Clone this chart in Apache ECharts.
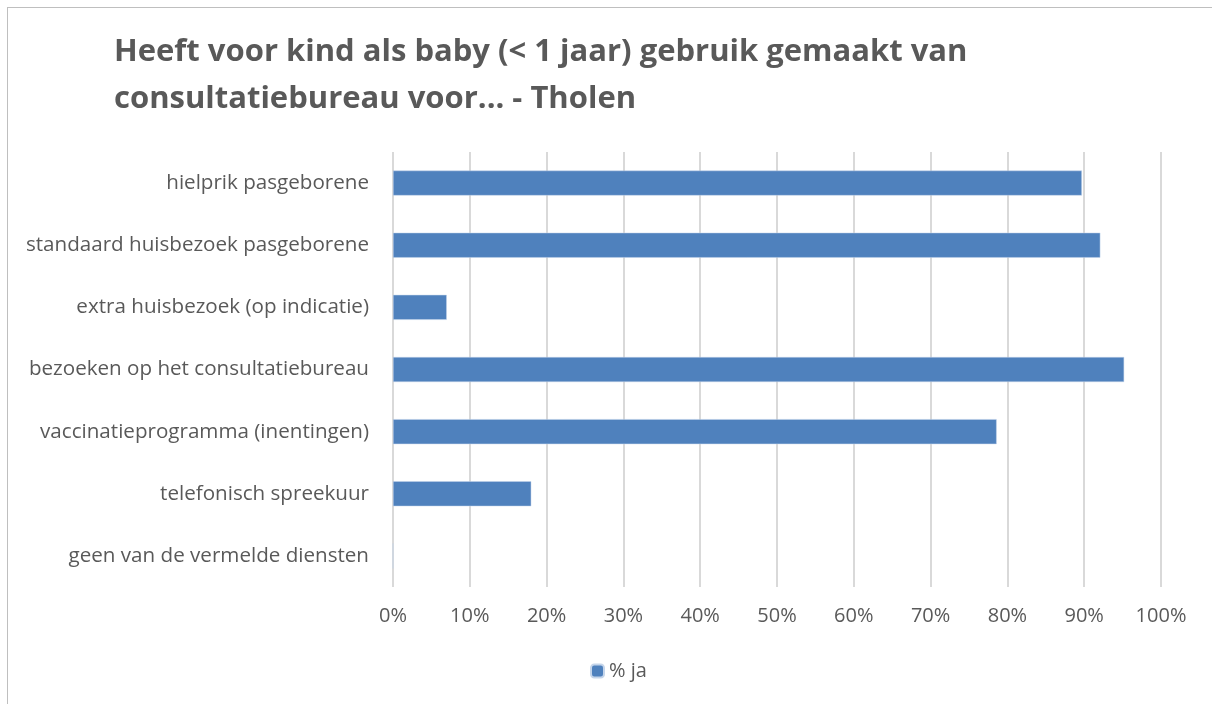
<!DOCTYPE html>
<html>
<head>
<meta charset="utf-8">
<script src="https://cdn.jsdelivr.net/npm/echarts@6/dist/echarts.min.js"></script>
<style>
  html, body { margin: 0; padding: 0; background: #fff; }
  #frame { position: absolute; left: 7px; top: 7px; width: 1210px; height: 710px; border: 1px solid #bfbfbf; box-sizing: border-box; }
  #chart { position: absolute; left: 0; top: 0; width: 1212px; height: 704px; }
</style>
</head>
<body>
<div id="frame"></div>
<div id="chart"></div>
<script>
const categories = [
  "hielprik pasgeborene",
  "standaard huisbezoek pasgeborene",
  "extra huisbezoek (op indicatie)",
  "bezoeken op het consultatiebureau",
  "vaccinatieprogramma (inentingen)",
  "telefonisch spreekuur",
  "geen van de vermelde diensten"
];
const jaValues = [89.7, 92.1, 7.0, 95.2, 78.6, 18.0, 0];
const seriesName = "% ja";

var myChart = echarts.init(document.getElementById("chart"));

var option = {
  animation: false,
  title: {
    text: "Heeft voor kind als baby (< 1 jaar) gebruik gemaakt van\nconsultatiebureau voor... - Tholen",
    left: 109,
    top: 24,
    textStyle: {
      color: "#595959",
      fontFamily: "Open Sans",
      fontWeight: "bold",
      fontSize: 31,
      lineHeight: 47
    }
  },
  legend: {
    data: [seriesName],
    bottom: 18,
    left: 585,
    itemWidth: 13,
    itemHeight: 13,
    itemGap: 4,
    textStyle: { color: "#595959", fontSize: 20, fontFamily: "Open Sans" }
  },
  grid: {
    left: 393,
    right: 51,
    top: 152,
    bottom: 117
  },
  xAxis: {
    type: "value",
    min: 0,
    max: 100,
    interval: 10,
    axisLabel: {
      formatter: "{value}%",
      color: "#595959",
      fontSize: 20,
      fontFamily: "Open Sans",
      margin: 19
    },
    axisLine: { show: false },
    axisTick: { show: false },
    splitLine: { lineStyle: { color: "#d9d9d9", width: 2 } }
  },
  yAxis: {
    type: "category",
    data: categories,
    inverse: true,
    axisLabel: {
      color: "#595959",
      fontSize: 20.6,
      fontFamily: "Open Sans",
      margin: 24
    },
    axisLine: { show: false },
    axisTick: { show: false }
  },
  series: [
    {
      name: seriesName,
      type: "bar",
      data: jaValues,
      barWidth: 25,
      itemStyle: { color: "#4f81bd", borderColor: "#c5d5ea", borderWidth: 0.5 }
    }
  ]
};

myChart.setOption(option);
</script>
</body>
</html>
